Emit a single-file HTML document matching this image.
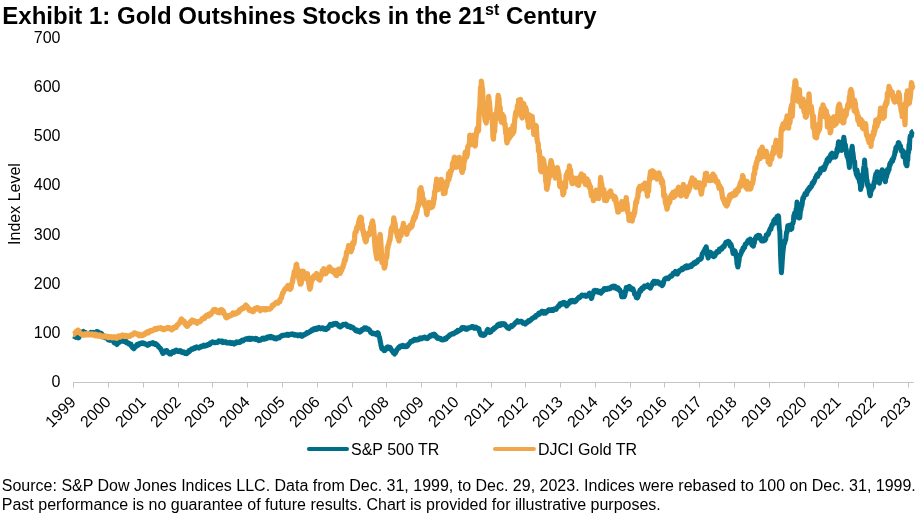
<!DOCTYPE html>
<html><head><meta charset="utf-8">
<style>
html,body{margin:0;padding:0;background:#fff;}
body{width:919px;height:516px;overflow:hidden;position:relative;font-family:"Liberation Sans",sans-serif;color:#000;}
#title{position:absolute;left:2.3px;top:3px;font-size:24px;font-weight:bold;white-space:nowrap;line-height:26px;}
#title sup{font-size:16px;line-height:0;vertical-align:baseline;position:relative;top:-9px;}
#foot{position:absolute;left:1.8px;top:477.3px;font-size:16px;line-height:18.6px;white-space:nowrap;}
#wrap{position:absolute;left:0;top:0;width:919px;height:516px;will-change:transform;}
svg{position:absolute;left:0;top:0;}
svg text{font-family:"Liberation Sans",sans-serif;font-size:16px;fill:#000;}
</style></head><body><div id="wrap">
<div id="title">Exhibit 1: Gold Outshines Stocks in the 21<sup>st</sup> Century</div>
<svg width="919" height="516" viewBox="0 0 919 516">
<g stroke="#c4c4c4" stroke-width="1" fill="none">
<line x1="73" y1="382.5" x2="913.8" y2="382.5"/>
<line x1="73.5" y1="382" x2="73.5" y2="387.6"/><line x1="108.5" y1="382" x2="108.5" y2="387.6"/><line x1="143.5" y1="382" x2="143.5" y2="387.6"/><line x1="178.5" y1="382" x2="178.5" y2="387.6"/><line x1="212.5" y1="382" x2="212.5" y2="387.6"/><line x1="247.5" y1="382" x2="247.5" y2="387.6"/><line x1="282.5" y1="382" x2="282.5" y2="387.6"/><line x1="317.5" y1="382" x2="317.5" y2="387.6"/><line x1="352.5" y1="382" x2="352.5" y2="387.6"/><line x1="386.5" y1="382" x2="386.5" y2="387.6"/><line x1="421.5" y1="382" x2="421.5" y2="387.6"/><line x1="456.5" y1="382" x2="456.5" y2="387.6"/><line x1="491.5" y1="382" x2="491.5" y2="387.6"/><line x1="525.5" y1="382" x2="525.5" y2="387.6"/><line x1="560.5" y1="382" x2="560.5" y2="387.6"/><line x1="595.5" y1="382" x2="595.5" y2="387.6"/><line x1="630.5" y1="382" x2="630.5" y2="387.6"/><line x1="664.5" y1="382" x2="664.5" y2="387.6"/><line x1="699.5" y1="382" x2="699.5" y2="387.6"/><line x1="734.5" y1="382" x2="734.5" y2="387.6"/><line x1="769.5" y1="382" x2="769.5" y2="387.6"/><line x1="804.5" y1="382" x2="804.5" y2="387.6"/><line x1="838.5" y1="382" x2="838.5" y2="387.6"/><line x1="873.5" y1="382" x2="873.5" y2="387.6"/><line x1="908.5" y1="382" x2="908.5" y2="387.6"/>
</g>
<text x="60.5" y="386.7" text-anchor="end">0</text><text x="60.5" y="337.5" text-anchor="end">100</text><text x="60.5" y="289.3" text-anchor="end">200</text><text x="60.5" y="240.1" text-anchor="end">300</text><text x="60.5" y="189.9" text-anchor="end">400</text><text x="60.5" y="140.7" text-anchor="end">500</text><text x="60.5" y="91.5" text-anchor="end">600</text><text x="60.5" y="43.3" text-anchor="end">700</text>
<text transform="translate(76.90,403.0) rotate(-45)" text-anchor="end">1999</text><text transform="translate(111.90,403.0) rotate(-45)" text-anchor="end">2000</text><text transform="translate(146.90,403.0) rotate(-45)" text-anchor="end">2001</text><text transform="translate(181.90,403.0) rotate(-45)" text-anchor="end">2002</text><text transform="translate(215.90,403.0) rotate(-45)" text-anchor="end">2003</text><text transform="translate(250.90,403.0) rotate(-45)" text-anchor="end">2004</text><text transform="translate(285.90,403.0) rotate(-45)" text-anchor="end">2005</text><text transform="translate(320.90,403.0) rotate(-45)" text-anchor="end">2006</text><text transform="translate(355.90,403.0) rotate(-45)" text-anchor="end">2007</text><text transform="translate(389.90,403.0) rotate(-45)" text-anchor="end">2008</text><text transform="translate(424.90,403.0) rotate(-45)" text-anchor="end">2009</text><text transform="translate(459.90,403.0) rotate(-45)" text-anchor="end">2010</text><text transform="translate(494.90,403.0) rotate(-45)" text-anchor="end">2011</text><text transform="translate(528.90,403.0) rotate(-45)" text-anchor="end">2012</text><text transform="translate(563.90,403.0) rotate(-45)" text-anchor="end">2013</text><text transform="translate(598.90,403.0) rotate(-45)" text-anchor="end">2014</text><text transform="translate(633.90,403.0) rotate(-45)" text-anchor="end">2015</text><text transform="translate(667.90,403.0) rotate(-45)" text-anchor="end">2016</text><text transform="translate(702.90,403.0) rotate(-45)" text-anchor="end">2017</text><text transform="translate(737.90,403.0) rotate(-45)" text-anchor="end">2018</text><text transform="translate(772.90,403.0) rotate(-45)" text-anchor="end">2019</text><text transform="translate(807.90,403.0) rotate(-45)" text-anchor="end">2020</text><text transform="translate(841.90,403.0) rotate(-45)" text-anchor="end">2021</text><text transform="translate(876.90,403.0) rotate(-45)" text-anchor="end">2022</text><text transform="translate(911.90,403.0) rotate(-45)" text-anchor="end">2023</text>
<text transform="translate(19.5,204) rotate(-90)" text-anchor="middle">Index Level</text>
<path d="M73.0,336.1 L73.4,336.2 L73.8,336.2 L74.2,336.1 L74.6,336.2 L75.0,336.2 L75.4,336.6 L75.8,337.3 L76.2,336.9 L76.6,336.7 L77.0,337.5 L77.4,337.5 L77.8,337.5 L78.2,337.2 L78.6,337.9 L79.0,337.4 L79.4,335.7 L79.8,335.0 L80.2,333.6 L80.6,333.0 L81.0,332.0 L81.4,332.3 L81.8,332.2 L82.2,332.4 L82.6,332.3 L83.0,332.0 L83.4,331.5 L83.8,332.1 L84.2,332.7 L84.6,332.9 L85.0,332.5 L85.4,333.0 L85.8,332.7 L86.2,333.2 L86.6,334.0 L87.0,333.6 L87.4,333.9 L87.8,334.4 L88.2,334.0 L88.6,334.4 L89.0,334.0 L89.4,333.8 L89.8,333.1 L90.2,333.3 L90.6,333.7 L91.0,332.3 L91.4,333.3 L91.8,332.9 L92.2,332.6 L92.6,333.3 L93.0,333.2 L93.4,332.4 L93.8,332.9 L94.2,333.1 L94.6,332.9 L95.0,332.8 L95.4,332.6 L95.8,332.7 L96.2,332.8 L96.6,331.6 L97.0,332.0 L97.4,331.7 L97.8,332.1 L98.2,331.9 L98.6,332.2 L99.0,333.0 L99.4,333.7 L99.8,334.0 L100.2,333.1 L100.6,333.6 L101.0,334.0 L101.4,333.5 L101.8,334.1 L102.2,334.6 L102.6,335.3 L103.0,335.5 L103.4,335.4 L103.8,335.7 L104.2,336.3 L104.6,337.6 L105.0,337.1 L105.4,337.4 L105.8,337.7 L106.2,337.4 L106.6,337.7 L107.0,337.8 L107.4,338.5 L107.8,338.7 L108.2,339.9 L108.6,339.9 L109.0,339.7 L109.4,340.0 L109.8,339.6 L110.2,340.3 L110.6,339.6 L111.0,339.9 L111.4,339.2 L111.8,339.7 L112.2,339.3 L112.6,339.4 L113.0,340.5 L113.4,341.0 L113.8,342.1 L114.2,342.9 L114.6,341.8 L115.0,342.4 L115.4,342.9 L115.8,343.7 L116.2,343.7 L116.6,344.2 L117.0,344.5 L117.4,344.0 L117.8,342.6 L118.2,343.1 L118.6,342.7 L119.0,341.8 L119.4,342.2 L119.8,341.0 L120.2,341.5 L120.6,341.1 L121.0,340.8 L121.4,340.7 L121.8,341.1 L122.2,340.2 L122.6,340.3 L123.0,340.9 L123.4,340.2 L123.8,341.4 L124.2,340.5 L124.6,341.6 L125.0,341.1 L125.4,341.8 L125.8,341.7 L126.2,341.3 L126.6,342.9 L127.0,343.0 L127.4,342.5 L127.8,342.6 L128.2,343.1 L128.6,343.0 L129.0,344.2 L129.4,343.8 L129.8,344.3 L130.2,344.1 L130.6,343.9 L131.0,344.1 L131.4,346.3 L131.8,346.3 L132.2,347.4 L132.6,347.8 L133.0,348.1 L133.4,348.4 L133.8,348.8 L134.2,348.5 L134.6,347.7 L135.0,347.1 L135.4,346.3 L135.8,345.8 L136.2,346.4 L136.6,344.9 L137.0,344.5 L137.4,345.1 L137.8,345.4 L138.2,344.4 L138.6,344.9 L139.0,344.4 L139.4,343.6 L139.8,344.3 L140.2,343.6 L140.6,343.6 L141.0,343.1 L141.4,343.3 L141.8,343.0 L142.2,343.2 L142.6,342.8 L143.0,342.7 L143.4,343.7 L143.8,343.0 L144.2,343.6 L144.6,343.4 L145.0,343.4 L145.4,343.7 L145.8,344.4 L146.2,344.5 L146.6,344.6 L147.0,344.8 L147.4,345.4 L147.8,345.3 L148.2,344.7 L148.6,344.1 L149.0,343.7 L149.4,344.5 L149.8,344.0 L150.2,343.5 L150.6,343.7 L151.0,343.3 L151.4,343.2 L151.8,343.4 L152.2,342.9 L152.6,343.7 L153.0,342.6 L153.4,343.5 L153.8,343.5 L154.2,343.6 L154.6,344.2 L155.0,344.4 L155.4,343.6 L155.8,343.6 L156.2,344.6 L156.6,344.3 L157.0,344.7 L157.4,345.6 L157.8,345.5 L158.2,345.6 L158.6,347.1 L159.0,347.3 L159.4,347.4 L159.8,348.0 L160.2,348.1 L160.6,348.6 L161.0,349.9 L161.4,350.3 L161.8,350.6 L162.2,352.4 L162.6,352.5 L163.0,353.5 L163.4,353.3 L163.8,353.0 L164.2,352.2 L164.6,351.7 L165.0,351.9 L165.4,350.8 L165.8,350.7 L166.2,350.6 L166.6,351.6 L167.0,350.6 L167.4,352.2 L167.8,352.5 L168.2,352.7 L168.6,352.4 L169.0,353.1 L169.4,353.9 L169.8,353.3 L170.2,353.8 L170.6,353.8 L171.0,354.1 L171.4,353.3 L171.8,352.3 L172.2,352.2 L172.6,351.6 L173.0,351.3 L173.4,351.5 L173.8,352.5 L174.2,351.9 L174.6,351.1 L175.0,350.9 L175.4,351.2 L175.8,350.3 L176.2,350.1 L176.6,350.3 L177.0,350.6 L177.4,351.5 L177.8,351.5 L178.2,351.5 L178.6,351.1 L179.0,351.5 L179.4,350.9 L179.8,351.4 L180.2,350.6 L180.6,351.2 L181.0,351.6 L181.4,351.2 L181.8,352.6 L182.2,352.6 L182.6,351.9 L183.0,352.4 L183.4,352.7 L183.8,351.8 L184.2,353.1 L184.6,353.1 L185.0,353.4 L185.4,353.0 L185.8,353.5 L186.2,353.5 L186.6,353.7 L187.0,353.1 L187.4,352.6 L187.8,352.8 L188.2,351.6 L188.6,351.3 L189.0,350.5 L189.4,351.7 L189.8,351.1 L190.2,350.5 L190.6,350.2 L191.0,349.5 L191.4,349.0 L191.8,348.9 L192.2,348.8 L192.6,348.8 L193.0,349.2 L193.4,348.9 L193.8,348.2 L194.2,347.8 L194.6,347.6 L195.0,348.4 L195.4,347.7 L195.8,347.2 L196.2,347.1 L196.6,346.8 L197.0,347.2 L197.4,347.6 L197.8,347.3 L198.2,347.7 L198.6,347.7 L199.0,348.0 L199.4,347.5 L199.8,347.6 L200.2,346.9 L200.6,347.2 L201.0,346.4 L201.4,346.5 L201.8,346.8 L202.2,346.0 L202.6,345.9 L203.0,345.9 L203.4,345.7 L203.8,345.2 L204.2,345.6 L204.6,346.2 L205.0,345.5 L205.4,345.4 L205.8,345.2 L206.2,345.7 L206.6,345.0 L207.0,344.9 L207.4,345.3 L207.8,344.6 L208.2,345.0 L208.6,344.9 L209.0,344.2 L209.4,344.1 L209.8,344.4 L210.2,343.1 L210.6,342.7 L211.0,342.4 L211.4,342.4 L211.8,342.8 L212.2,342.6 L212.6,341.9 L213.0,342.1 L213.4,342.1 L213.8,342.6 L214.2,342.8 L214.6,342.7 L215.0,342.7 L215.4,342.5 L215.8,342.4 L216.2,342.3 L216.6,342.2 L217.0,342.2 L217.4,342.5 L217.8,341.8 L218.2,341.5 L218.6,341.0 L219.0,341.4 L219.4,340.9 L219.8,340.9 L220.2,341.8 L220.6,341.7 L221.0,341.4 L221.4,341.0 L221.8,341.3 L222.2,341.1 L222.6,342.0 L223.0,342.7 L223.4,342.1 L223.8,341.7 L224.2,341.8 L224.6,342.1 L225.0,342.2 L225.4,341.9 L225.8,342.5 L226.2,342.0 L226.6,342.9 L227.0,343.0 L227.4,343.1 L227.8,342.6 L228.2,343.1 L228.6,342.9 L229.0,342.9 L229.4,342.9 L229.8,342.3 L230.2,342.3 L230.6,343.3 L231.0,342.6 L231.4,342.8 L231.8,343.4 L232.2,342.5 L232.6,343.0 L233.0,343.3 L233.4,343.6 L233.8,343.4 L234.2,344.0 L234.6,343.4 L235.0,342.6 L235.4,342.5 L235.8,343.1 L236.2,342.5 L236.6,341.9 L237.0,342.8 L237.4,342.6 L237.8,342.5 L238.2,341.9 L238.6,342.0 L239.0,341.8 L239.4,342.5 L239.8,342.0 L240.2,342.3 L240.6,341.6 L241.0,341.4 L241.4,340.7 L241.8,341.0 L242.2,341.0 L242.6,340.2 L243.0,341.0 L243.4,340.4 L243.8,339.9 L244.2,340.0 L244.6,339.4 L245.0,339.4 L245.4,339.1 L245.8,338.8 L246.2,339.2 L246.6,338.9 L247.0,338.8 L247.4,339.3 L247.8,339.4 L248.2,338.2 L248.6,338.7 L249.0,338.6 L249.4,338.4 L249.8,339.3 L250.2,338.5 L250.6,339.4 L251.0,338.3 L251.4,338.8 L251.8,338.6 L252.2,338.4 L252.6,339.0 L253.0,339.0 L253.4,339.1 L253.8,339.0 L254.2,338.7 L254.6,338.9 L255.0,338.9 L255.4,339.3 L255.8,338.4 L256.2,338.9 L256.6,338.6 L257.0,339.8 L257.4,339.3 L257.8,339.3 L258.2,340.1 L258.6,340.5 L259.0,339.5 L259.4,339.9 L259.8,340.2 L260.2,340.0 L260.6,340.2 L261.0,339.7 L261.4,339.5 L261.8,339.5 L262.2,338.4 L262.6,339.1 L263.0,338.3 L263.4,338.2 L263.8,338.0 L264.2,339.3 L264.6,338.8 L265.0,338.9 L265.4,338.5 L265.8,338.2 L266.2,338.0 L266.6,338.5 L267.0,337.1 L267.4,337.0 L267.8,337.2 L268.2,336.8 L268.6,337.6 L269.0,337.7 L269.4,336.7 L269.8,336.6 L270.2,337.1 L270.6,337.5 L271.0,336.4 L271.4,337.4 L271.8,337.1 L272.2,337.7 L272.6,337.2 L273.0,337.6 L273.4,337.3 L273.8,337.5 L274.2,338.6 L274.6,338.7 L275.0,338.4 L275.4,338.3 L275.8,338.1 L276.2,338.9 L276.6,338.7 L277.0,338.5 L277.4,338.1 L277.8,337.6 L278.2,337.7 L278.6,337.3 L279.0,337.6 L279.4,337.8 L279.8,336.7 L280.2,336.4 L280.6,336.4 L281.0,336.0 L281.4,335.8 L281.8,335.9 L282.2,335.4 L282.6,335.9 L283.0,335.2 L283.4,335.3 L283.8,335.1 L284.2,334.9 L284.6,335.0 L285.0,335.3 L285.4,335.2 L285.8,335.3 L286.2,334.7 L286.6,334.4 L287.0,335.1 L287.4,334.5 L287.8,334.9 L288.2,335.3 L288.6,334.3 L289.0,335.2 L289.4,335.0 L289.8,334.6 L290.2,334.4 L290.6,334.5 L291.0,334.1 L291.4,334.5 L291.8,334.5 L292.2,334.5 L292.6,334.0 L293.0,334.6 L293.4,334.7 L293.8,334.7 L294.2,334.8 L294.6,335.2 L295.0,334.4 L295.4,335.1 L295.8,335.1 L296.2,335.3 L296.6,335.3 L297.0,334.8 L297.4,335.3 L297.8,335.8 L298.2,335.5 L298.6,335.4 L299.0,334.9 L299.4,335.5 L299.8,335.5 L300.2,335.4 L300.6,335.3 L301.0,334.6 L301.4,336.2 L301.8,335.9 L302.2,335.0 L302.6,336.1 L303.0,335.2 L303.4,334.7 L303.8,334.8 L304.2,335.1 L304.6,334.3 L305.0,334.3 L305.4,334.6 L305.8,334.2 L306.2,333.2 L306.6,333.0 L307.0,332.5 L307.4,332.6 L307.8,333.1 L308.2,333.0 L308.6,332.6 L309.0,332.5 L309.4,331.7 L309.8,331.7 L310.2,331.8 L310.6,331.2 L311.0,331.4 L311.4,330.5 L311.8,329.8 L312.2,330.1 L312.6,329.6 L313.0,329.2 L313.4,330.2 L313.8,329.8 L314.2,329.7 L314.6,328.7 L315.0,329.1 L315.4,328.8 L315.8,328.6 L316.2,328.2 L316.6,328.7 L317.0,329.4 L317.4,328.8 L317.8,328.5 L318.2,328.3 L318.6,328.5 L319.0,327.4 L319.4,328.0 L319.8,328.0 L320.2,328.3 L320.6,328.8 L321.0,328.5 L321.4,328.1 L321.8,328.3 L322.2,328.1 L322.6,327.8 L323.0,328.3 L323.4,328.8 L323.8,329.2 L324.2,328.5 L324.6,328.3 L325.0,328.5 L325.4,329.2 L325.8,328.8 L326.2,329.6 L326.6,328.6 L327.0,328.4 L327.4,328.0 L327.8,328.4 L328.2,328.2 L328.6,326.5 L329.0,326.3 L329.4,326.3 L329.8,325.1 L330.2,324.5 L330.6,324.9 L331.0,324.6 L331.4,324.9 L331.8,324.6 L332.2,325.3 L332.6,324.6 L333.0,324.8 L333.4,323.7 L333.8,323.6 L334.2,323.8 L334.6,323.6 L335.0,324.2 L335.4,323.9 L335.8,323.4 L336.2,323.9 L336.6,323.7 L337.0,324.6 L337.4,324.3 L337.8,324.5 L338.2,325.4 L338.6,326.2 L339.0,326.3 L339.4,325.9 L339.8,326.5 L340.2,326.9 L340.6,326.1 L341.0,326.0 L341.4,326.2 L341.8,326.0 L342.2,325.0 L342.6,324.7 L343.0,324.4 L343.4,325.1 L343.8,324.6 L344.2,324.6 L344.6,324.4 L345.0,324.5 L345.4,324.1 L345.8,324.6 L346.2,324.3 L346.6,325.1 L347.0,325.1 L347.4,326.4 L347.8,325.9 L348.2,326.1 L348.6,326.4 L349.0,326.4 L349.4,326.8 L349.8,326.1 L350.2,326.2 L350.6,326.4 L351.0,327.7 L351.4,327.4 L351.8,326.9 L352.2,327.1 L352.6,327.8 L353.0,327.5 L353.4,327.7 L353.8,328.6 L354.2,328.9 L354.6,329.7 L355.0,329.3 L355.4,330.5 L355.8,330.7 L356.2,330.4 L356.6,330.4 L357.0,330.2 L357.4,331.2 L357.8,331.0 L358.2,331.6 L358.6,331.6 L359.0,331.2 L359.4,330.8 L359.8,332.1 L360.2,331.8 L360.6,331.7 L361.0,331.1 L361.4,330.9 L361.8,329.6 L362.2,330.0 L362.6,329.3 L363.0,329.6 L363.4,329.6 L363.8,328.6 L364.2,327.7 L364.6,327.8 L365.0,327.8 L365.4,328.0 L365.8,328.5 L366.2,327.9 L366.6,329.1 L367.0,328.4 L367.4,329.3 L367.8,328.7 L368.2,328.7 L368.6,329.2 L369.0,329.6 L369.4,330.0 L369.8,330.3 L370.2,331.5 L370.6,332.4 L371.0,332.7 L371.4,332.9 L371.8,333.0 L372.2,332.7 L372.6,333.7 L373.0,333.4 L373.4,333.4 L373.8,333.3 L374.2,333.9 L374.6,333.9 L375.0,334.0 L375.4,333.6 L375.8,334.2 L376.2,334.6 L376.6,333.8 L377.0,333.4 L377.4,333.3 L377.8,332.6 L378.2,333.0 L378.6,334.2 L379.0,336.4 L379.4,337.2 L379.8,338.7 L380.2,341.5 L380.6,342.9 L381.0,345.6 L381.4,346.9 L381.8,348.6 L382.2,347.4 L382.6,348.4 L383.0,349.0 L383.4,349.8 L383.8,350.0 L384.2,350.7 L384.6,349.6 L385.0,350.5 L385.4,349.6 L385.8,349.0 L386.2,349.1 L386.6,348.1 L387.0,347.1 L387.4,347.1 L387.8,346.8 L388.2,347.0 L388.6,347.4 L389.0,347.9 L389.4,348.5 L389.8,347.9 L390.2,347.4 L390.6,348.3 L391.0,349.0 L391.4,349.8 L391.8,350.7 L392.2,351.2 L392.6,350.7 L393.0,352.5 L393.4,352.3 L393.8,353.1 L394.2,353.6 L394.6,354.0 L395.0,352.9 L395.4,353.1 L395.8,351.9 L396.2,351.3 L396.6,350.9 L397.0,349.2 L397.4,349.2 L397.8,348.8 L398.2,348.4 L398.6,347.3 L399.0,348.3 L399.4,347.4 L399.8,346.5 L400.2,346.1 L400.6,346.5 L401.0,346.7 L401.4,346.1 L401.8,346.4 L402.2,345.7 L402.6,346.1 L403.0,345.5 L403.4,346.1 L403.8,346.7 L404.2,346.6 L404.6,345.9 L405.0,346.2 L405.4,345.9 L405.8,346.7 L406.2,346.1 L406.6,346.5 L407.0,346.6 L407.4,346.2 L407.8,345.5 L408.2,345.0 L408.6,344.1 L409.0,343.9 L409.4,343.5 L409.8,343.1 L410.2,342.3 L410.6,341.5 L411.0,341.5 L411.4,341.8 L411.8,341.4 L412.2,341.3 L412.6,340.6 L413.0,341.1 L413.4,340.2 L413.8,339.9 L414.2,339.5 L414.6,340.2 L415.0,339.5 L415.4,340.0 L415.8,339.5 L416.2,340.2 L416.6,339.5 L417.0,339.5 L417.4,339.9 L417.8,339.5 L418.2,339.0 L418.6,338.8 L419.0,338.9 L419.4,339.3 L419.8,338.5 L420.2,337.9 L420.6,338.4 L421.0,338.2 L421.4,338.3 L421.8,338.7 L422.2,338.0 L422.6,338.3 L423.0,337.6 L423.4,337.9 L423.8,338.0 L424.2,337.4 L424.6,337.1 L425.0,337.1 L425.4,338.2 L425.8,337.5 L426.2,338.3 L426.6,338.4 L427.0,338.6 L427.4,338.1 L427.8,338.3 L428.2,337.5 L428.6,337.5 L429.0,337.0 L429.4,336.2 L429.8,336.3 L430.2,336.6 L430.6,335.3 L431.0,335.2 L431.4,335.7 L431.8,335.0 L432.2,335.2 L432.6,334.5 L433.0,335.7 L433.4,335.8 L433.8,335.4 L434.2,334.1 L434.6,334.5 L435.0,334.7 L435.4,335.3 L435.8,336.6 L436.2,336.0 L436.6,337.5 L437.0,337.5 L437.4,338.3 L437.8,337.8 L438.2,337.6 L438.6,338.0 L439.0,338.3 L439.4,338.4 L439.8,338.9 L440.2,338.5 L440.6,338.4 L441.0,339.6 L441.4,339.8 L441.8,339.9 L442.2,339.8 L442.6,339.9 L443.0,339.7 L443.4,339.6 L443.8,339.2 L444.2,339.6 L444.6,338.5 L445.0,339.4 L445.4,338.3 L445.8,338.2 L446.2,339.0 L446.6,338.2 L447.0,337.2 L447.4,337.1 L447.8,337.2 L448.2,337.0 L448.6,335.8 L449.0,336.1 L449.4,335.9 L449.8,334.8 L450.2,335.0 L450.6,334.7 L451.0,334.2 L451.4,334.0 L451.8,334.3 L452.2,333.9 L452.6,333.5 L453.0,333.3 L453.4,334.0 L453.8,333.2 L454.2,333.2 L454.6,333.3 L455.0,332.7 L455.4,332.7 L455.8,331.8 L456.2,332.1 L456.6,331.6 L457.0,332.1 L457.4,331.8 L457.8,330.4 L458.2,330.6 L458.6,330.9 L459.0,330.7 L459.4,330.4 L459.8,329.9 L460.2,330.0 L460.6,329.8 L461.0,329.1 L461.4,329.3 L461.8,327.8 L462.2,328.5 L462.6,327.5 L463.0,328.1 L463.4,327.7 L463.8,327.5 L464.2,328.3 L464.6,327.9 L465.0,328.4 L465.4,328.2 L465.8,329.2 L466.2,329.3 L466.6,329.4 L467.0,329.0 L467.4,329.0 L467.8,328.0 L468.2,327.8 L468.6,328.1 L469.0,328.0 L469.4,328.0 L469.8,327.9 L470.2,327.8 L470.6,327.2 L471.0,326.9 L471.4,327.2 L471.8,326.7 L472.2,327.0 L472.6,326.7 L473.0,327.3 L473.4,327.5 L473.8,327.2 L474.2,328.2 L474.6,328.1 L475.0,328.3 L475.4,328.1 L475.8,327.1 L476.2,327.3 L476.6,327.7 L477.0,327.8 L477.4,328.4 L477.8,328.8 L478.2,328.3 L478.6,329.3 L479.0,328.8 L479.4,331.4 L479.8,332.1 L480.2,333.3 L480.6,334.6 L481.0,334.9 L481.4,333.8 L481.8,333.8 L482.2,334.2 L482.6,333.9 L483.0,334.5 L483.4,335.5 L483.8,334.2 L484.2,335.2 L484.6,334.5 L485.0,334.6 L485.4,333.8 L485.8,333.2 L486.2,332.7 L486.6,332.0 L487.0,330.5 L487.4,329.9 L487.8,329.3 L488.2,330.4 L488.6,330.6 L489.0,331.7 L489.4,331.6 L489.8,332.5 L490.2,331.2 L490.6,331.8 L491.0,332.0 L491.4,331.0 L491.8,330.4 L492.2,330.2 L492.6,329.1 L493.0,329.0 L493.4,329.7 L493.8,328.8 L494.2,327.7 L494.6,327.7 L495.0,327.8 L495.4,328.0 L495.8,327.1 L496.2,326.6 L496.6,326.9 L497.0,326.4 L497.4,325.3 L497.8,324.6 L498.2,324.5 L498.6,324.7 L499.0,324.2 L499.4,325.4 L499.8,324.7 L500.2,324.8 L500.6,325.3 L501.0,324.7 L501.4,323.6 L501.8,324.6 L502.2,324.7 L502.6,324.0 L503.0,323.9 L503.4,324.2 L503.8,323.6 L504.2,324.8 L504.6,323.8 L505.0,324.2 L505.4,325.2 L505.8,325.6 L506.2,326.4 L506.6,326.7 L507.0,327.0 L507.4,327.8 L507.8,326.8 L508.2,327.9 L508.6,328.0 L509.0,328.5 L509.4,328.1 L509.8,327.2 L510.2,327.0 L510.6,327.0 L511.0,326.3 L511.4,325.6 L511.8,326.6 L512.2,326.4 L512.6,325.4 L513.0,325.5 L513.4,325.3 L513.8,324.9 L514.2,324.3 L514.6,323.5 L515.0,323.1 L515.4,322.9 L515.8,322.4 L516.2,322.6 L516.6,321.8 L517.0,321.6 L517.4,320.7 L517.8,321.2 L518.2,321.2 L518.6,321.5 L519.0,322.0 L519.4,321.7 L519.8,321.8 L520.2,321.4 L520.6,321.3 L521.0,321.4 L521.4,321.3 L521.8,322.1 L522.2,321.8 L522.6,323.1 L523.0,322.7 L523.4,323.1 L523.8,323.3 L524.2,323.3 L524.6,323.7 L525.0,323.6 L525.4,324.1 L525.8,323.2 L526.2,322.5 L526.6,322.9 L527.0,321.9 L527.4,322.2 L527.8,322.2 L528.2,321.5 L528.6,320.6 L529.0,320.6 L529.4,321.3 L529.8,320.5 L530.2,320.1 L530.6,319.9 L531.0,320.0 L531.4,319.3 L531.8,318.6 L532.2,318.4 L532.6,318.6 L533.0,317.9 L533.4,317.6 L533.8,317.7 L534.2,317.1 L534.6,317.1 L535.0,316.9 L535.4,317.2 L535.8,315.5 L536.2,315.6 L536.6,315.2 L537.0,315.3 L537.4,315.3 L537.8,314.7 L538.2,314.2 L538.6,313.4 L539.0,313.6 L539.4,314.2 L539.8,313.5 L540.2,312.5 L540.6,312.5 L541.0,312.2 L541.4,311.9 L541.8,311.3 L542.2,311.5 L542.6,311.2 L543.0,311.5 L543.4,313.2 L543.8,311.5 L544.2,312.8 L544.6,313.1 L545.0,312.9 L545.4,312.5 L545.8,313.0 L546.2,312.2 L546.6,311.9 L547.0,311.0 L547.4,311.5 L547.8,310.6 L548.2,310.3 L548.6,309.8 L549.0,309.9 L549.4,310.1 L549.8,309.8 L550.2,310.5 L550.6,310.5 L551.0,310.2 L551.4,310.2 L551.8,309.6 L552.2,309.8 L552.6,310.5 L553.0,309.5 L553.4,310.4 L553.8,309.7 L554.2,309.4 L554.6,308.7 L555.0,308.8 L555.4,308.7 L555.8,309.1 L556.2,309.3 L556.6,308.4 L557.0,308.0 L557.4,307.2 L557.8,307.1 L558.2,306.0 L558.6,306.1 L559.0,306.2 L559.4,304.8 L559.8,303.9 L560.2,304.0 L560.6,303.7 L561.0,303.4 L561.4,304.6 L561.8,304.0 L562.2,303.1 L562.6,303.8 L563.0,303.9 L563.4,302.7 L563.8,302.2 L564.2,302.2 L564.6,302.5 L565.0,303.1 L565.4,304.0 L565.8,304.8 L566.2,305.0 L566.6,306.0 L567.0,305.8 L567.4,304.1 L567.8,304.3 L568.2,304.3 L568.6,303.0 L569.0,303.4 L569.4,302.1 L569.8,301.1 L570.2,301.8 L570.6,301.2 L571.0,300.7 L571.4,301.4 L571.8,301.9 L572.2,301.4 L572.6,300.4 L573.0,301.5 L573.4,301.6 L573.8,300.9 L574.2,301.8 L574.6,301.9 L575.0,300.8 L575.4,300.4 L575.8,301.2 L576.2,300.3 L576.6,299.6 L577.0,299.7 L577.4,299.3 L577.8,298.3 L578.2,298.5 L578.6,297.6 L579.0,297.1 L579.4,297.4 L579.8,297.6 L580.2,296.6 L580.6,296.7 L581.0,296.3 L581.4,296.3 L581.8,295.0 L582.2,295.7 L582.6,295.1 L583.0,295.3 L583.4,295.4 L583.8,295.6 L584.2,295.8 L584.6,295.6 L585.0,295.2 L585.4,295.7 L585.8,296.2 L586.2,296.4 L586.6,296.3 L587.0,295.8 L587.4,295.7 L587.8,295.8 L588.2,294.8 L588.6,294.0 L589.0,293.5 L589.4,293.2 L589.8,294.4 L590.2,294.1 L590.6,296.0 L591.0,297.0 L591.4,298.5 L591.8,298.0 L592.2,295.8 L592.6,295.0 L593.0,294.0 L593.4,292.9 L593.8,290.9 L594.2,291.3 L594.6,292.0 L595.0,290.2 L595.4,291.5 L595.8,290.7 L596.2,290.9 L596.6,291.1 L597.0,290.9 L597.4,291.7 L597.8,290.7 L598.2,292.3 L598.6,291.5 L599.0,292.3 L599.4,292.1 L599.8,291.3 L600.2,292.0 L600.6,292.8 L601.0,293.2 L601.4,292.0 L601.8,291.8 L602.2,290.7 L602.6,291.6 L603.0,290.9 L603.4,290.1 L603.8,289.8 L604.2,288.5 L604.6,289.2 L605.0,289.9 L605.4,289.5 L605.8,289.4 L606.2,288.8 L606.6,288.6 L607.0,289.4 L607.4,288.2 L607.8,288.6 L608.2,289.1 L608.6,289.0 L609.0,289.0 L609.4,289.0 L609.8,288.1 L610.2,287.6 L610.6,288.4 L611.0,287.6 L611.4,286.9 L611.8,287.0 L612.2,287.3 L612.6,286.4 L613.0,286.3 L613.4,286.1 L613.8,286.9 L614.2,287.2 L614.6,287.9 L615.0,286.3 L615.4,286.8 L615.8,288.0 L616.2,287.5 L616.6,287.7 L617.0,288.8 L617.4,288.1 L617.8,287.7 L618.2,287.7 L618.6,289.4 L619.0,290.1 L619.4,289.4 L619.8,289.8 L620.2,291.3 L620.6,291.5 L621.0,291.8 L621.4,295.3 L621.8,296.7 L622.2,295.4 L622.6,296.1 L623.0,296.8 L623.4,296.2 L623.8,295.8 L624.2,296.7 L624.6,295.7 L625.0,294.6 L625.4,290.6 L625.8,291.8 L626.2,287.5 L626.6,288.5 L627.0,288.0 L627.4,287.9 L627.8,287.3 L628.2,286.9 L628.6,288.0 L629.0,287.2 L629.4,286.3 L629.8,288.9 L630.2,288.3 L630.6,289.1 L631.0,287.6 L631.4,289.1 L631.8,289.4 L632.2,289.4 L632.6,288.7 L633.0,288.7 L633.4,290.7 L633.8,290.7 L634.2,292.0 L634.6,294.3 L635.0,294.6 L635.4,294.9 L635.8,295.4 L636.2,297.4 L636.6,297.2 L637.0,296.7 L637.4,297.9 L637.8,297.1 L638.2,296.0 L638.6,295.4 L639.0,293.1 L639.4,292.5 L639.8,290.4 L640.2,291.1 L640.6,291.4 L641.0,289.2 L641.4,289.4 L641.8,288.1 L642.2,287.7 L642.6,287.7 L643.0,288.8 L643.4,288.4 L643.8,287.3 L644.2,286.2 L644.6,286.8 L645.0,286.1 L645.4,287.0 L645.8,286.6 L646.2,286.6 L646.6,286.5 L647.0,285.6 L647.4,285.3 L647.8,284.9 L648.2,286.3 L648.6,286.2 L649.0,287.1 L649.4,286.8 L649.8,287.7 L650.2,288.2 L650.6,287.7 L651.0,286.7 L651.4,285.6 L651.8,285.5 L652.2,284.8 L652.6,283.1 L653.0,282.2 L653.4,283.3 L653.8,281.3 L654.2,282.9 L654.6,281.3 L655.0,281.2 L655.4,283.4 L655.8,282.8 L656.2,281.8 L656.6,282.6 L657.0,282.5 L657.4,282.4 L657.8,281.5 L658.2,282.0 L658.6,282.8 L659.0,283.0 L659.4,284.0 L659.8,283.6 L660.2,284.2 L660.6,283.1 L661.0,284.0 L661.4,283.0 L661.8,283.8 L662.2,285.7 L662.6,284.6 L663.0,284.7 L663.4,283.0 L663.8,281.5 L664.2,280.4 L664.6,279.3 L665.0,278.8 L665.4,278.8 L665.8,278.3 L666.2,277.9 L666.6,278.0 L667.0,278.2 L667.4,278.0 L667.8,278.6 L668.2,278.7 L668.6,278.4 L669.0,277.8 L669.4,277.3 L669.8,276.6 L670.2,276.5 L670.6,275.8 L671.0,276.0 L671.4,275.9 L671.8,276.1 L672.2,275.1 L672.6,274.6 L673.0,273.4 L673.4,274.2 L673.8,273.3 L674.2,273.3 L674.6,272.3 L675.0,272.1 L675.4,271.4 L675.8,272.3 L676.2,273.7 L676.6,271.7 L677.0,273.4 L677.4,274.1 L677.8,272.6 L678.2,272.5 L678.6,272.2 L679.0,270.8 L679.4,271.0 L679.8,270.3 L680.2,270.1 L680.6,269.8 L681.0,270.1 L681.4,269.9 L681.8,270.0 L682.2,268.3 L682.6,269.7 L683.0,269.1 L683.4,268.5 L683.8,267.5 L684.2,267.7 L684.6,267.8 L685.0,267.5 L685.4,266.2 L685.8,267.5 L686.2,267.9 L686.6,265.8 L687.0,267.0 L687.4,266.7 L687.8,266.5 L688.2,267.4 L688.6,266.1 L689.0,267.0 L689.4,267.0 L689.8,266.0 L690.2,265.6 L690.6,265.7 L691.0,265.2 L691.4,266.5 L691.8,264.6 L692.2,265.4 L692.6,264.1 L693.0,264.8 L693.4,264.1 L693.8,262.7 L694.2,263.5 L694.6,262.7 L695.0,262.9 L695.4,263.6 L695.8,261.7 L696.2,261.9 L696.6,262.3 L697.0,261.5 L697.4,262.0 L697.8,261.2 L698.2,259.7 L698.6,259.8 L699.0,260.1 L699.4,259.8 L699.8,259.0 L700.2,259.2 L700.6,259.3 L701.0,258.2 L701.4,258.3 L701.8,256.3 L702.2,253.8 L702.6,253.3 L703.0,253.0 L703.4,252.4 L703.8,250.9 L704.2,250.7 L704.6,250.8 L705.0,248.7 L705.4,248.2 L705.8,249.0 L706.2,246.7 L706.6,249.3 L707.0,253.4 L707.4,255.4 L707.8,256.5 L708.2,258.0 L708.6,256.6 L709.0,254.5 L709.4,254.7 L709.8,253.7 L710.2,252.1 L710.6,253.3 L711.0,253.9 L711.4,252.9 L711.8,254.7 L712.2,255.7 L712.6,256.0 L713.0,255.7 L713.4,256.5 L713.8,256.7 L714.2,256.3 L714.6,255.2 L715.0,255.9 L715.4,253.6 L715.8,253.4 L716.2,253.7 L716.6,251.8 L717.0,251.5 L717.4,252.7 L717.8,252.1 L718.2,251.9 L718.6,251.9 L719.0,251.8 L719.4,249.1 L719.8,249.5 L720.2,249.3 L720.6,248.6 L721.0,248.7 L721.4,248.2 L721.8,249.1 L722.2,247.3 L722.6,247.9 L723.0,247.1 L723.4,246.0 L723.8,246.1 L724.2,246.7 L724.6,245.0 L725.0,244.0 L725.4,243.6 L725.8,242.4 L726.2,243.4 L726.6,243.3 L727.0,241.9 L727.4,242.6 L727.8,243.1 L728.2,241.3 L728.6,241.7 L729.0,241.7 L729.4,242.3 L729.8,243.6 L730.2,246.2 L730.6,244.8 L731.0,244.3 L731.4,246.0 L731.8,247.2 L732.2,248.9 L732.6,250.6 L733.0,253.5 L733.4,252.7 L733.8,253.4 L734.2,252.3 L734.6,252.0 L735.0,250.9 L735.4,252.3 L735.8,254.2 L736.2,257.0 L736.6,258.0 L737.0,264.0 L737.4,264.4 L737.8,267.1 L738.2,265.9 L738.6,263.2 L739.0,260.9 L739.4,257.4 L739.8,255.8 L740.2,255.4 L740.6,254.1 L741.0,253.7 L741.4,252.6 L741.8,250.4 L742.2,250.1 L742.6,250.7 L743.0,247.9 L743.4,249.1 L743.8,248.4 L744.2,246.9 L744.6,247.5 L745.0,244.9 L745.4,244.1 L745.8,243.7 L746.2,244.2 L746.6,243.4 L747.0,242.3 L747.4,242.7 L747.8,240.8 L748.2,242.0 L748.6,240.1 L749.0,241.2 L749.4,241.1 L749.8,239.9 L750.2,239.1 L750.6,239.6 L751.0,241.8 L751.4,243.3 L751.8,244.9 L752.2,244.2 L752.6,245.2 L753.0,246.0 L753.4,246.2 L753.8,241.7 L754.2,243.7 L754.6,241.3 L755.0,239.1 L755.4,238.2 L755.8,237.9 L756.2,236.6 L756.6,236.8 L757.0,236.1 L757.4,237.9 L757.8,237.2 L758.2,235.3 L758.6,236.9 L759.0,235.4 L759.4,236.0 L759.8,235.7 L760.2,237.7 L760.6,239.3 L761.0,238.5 L761.4,240.8 L761.8,241.0 L762.2,240.9 L762.6,239.0 L763.0,240.8 L763.4,240.9 L763.8,239.2 L764.2,240.6 L764.6,238.4 L765.0,240.4 L765.4,238.5 L765.8,239.0 L766.2,235.0 L766.6,236.1 L767.0,234.7 L767.4,235.4 L767.8,233.5 L768.2,233.6 L768.6,233.7 L769.0,231.6 L769.4,230.5 L769.8,230.0 L770.2,228.5 L770.6,229.6 L771.0,229.2 L771.4,226.4 L771.8,225.0 L772.2,225.6 L772.6,223.9 L773.0,223.4 L773.4,223.6 L773.8,220.4 L774.2,222.1 L774.6,220.8 L775.0,219.1 L775.4,222.9 L775.8,219.8 L776.2,221.7 L776.6,218.8 L777.0,216.5 L777.4,217.1 L777.8,217.8 L778.2,215.7 L778.6,216.4 L779.0,223.2 L779.4,229.3 L779.8,231.0 L780.2,242.7 L780.6,256.5 L781.0,265.1 L781.4,272.7 L781.8,268.3 L782.2,261.7 L782.6,256.5 L783.0,251.3 L783.4,248.2 L783.8,245.5 L784.2,241.2 L784.6,243.3 L785.0,241.7 L785.4,240.1 L785.8,239.6 L786.2,235.3 L786.6,231.9 L787.0,232.6 L787.4,228.7 L787.8,225.7 L788.2,228.6 L788.6,225.6 L789.0,226.6 L789.4,225.2 L789.8,226.6 L790.2,226.7 L790.6,227.9 L791.0,229.5 L791.4,226.7 L791.8,228.8 L792.2,224.3 L792.6,223.4 L793.0,223.3 L793.4,220.8 L793.8,215.5 L794.2,218.9 L794.6,213.0 L795.0,214.0 L795.4,212.2 L795.8,213.0 L796.2,208.4 L796.6,208.4 L797.0,202.1 L797.4,206.0 L797.8,205.8 L798.2,208.8 L798.6,216.7 L799.0,218.0 L799.4,216.8 L799.8,217.7 L800.2,213.3 L800.6,209.1 L801.0,209.9 L801.4,204.4 L801.8,206.3 L802.2,204.1 L802.6,199.4 L803.0,197.6 L803.4,198.7 L803.8,197.6 L804.2,195.4 L804.6,195.4 L805.0,193.5 L805.4,194.0 L805.8,194.0 L806.2,193.5 L806.6,194.5 L807.0,190.7 L807.4,191.9 L807.8,191.2 L808.2,190.2 L808.6,188.6 L809.0,188.9 L809.4,189.3 L809.8,186.9 L810.2,187.5 L810.6,187.7 L811.0,186.9 L811.4,186.8 L811.8,184.7 L812.2,183.1 L812.6,184.5 L813.0,183.4 L813.4,183.4 L813.8,181.0 L814.2,181.6 L814.6,180.4 L815.0,179.2 L815.4,177.8 L815.8,177.4 L816.2,176.6 L816.6,175.4 L817.0,175.6 L817.4,174.2 L817.8,176.5 L818.2,173.7 L818.6,174.4 L819.0,172.7 L819.4,172.3 L819.8,173.3 L820.2,170.8 L820.6,168.8 L821.0,169.0 L821.4,168.7 L821.8,170.4 L822.2,168.4 L822.6,169.5 L823.0,167.5 L823.4,168.7 L823.8,169.1 L824.2,169.4 L824.6,166.1 L825.0,167.5 L825.4,165.7 L825.8,163.2 L826.2,164.2 L826.6,163.2 L827.0,159.7 L827.4,161.4 L827.8,161.0 L828.2,158.9 L828.6,157.7 L829.0,161.1 L829.4,159.9 L829.8,159.6 L830.2,159.1 L830.6,154.8 L831.0,156.2 L831.4,153.7 L831.8,154.5 L832.2,153.1 L832.6,155.0 L833.0,157.3 L833.4,155.3 L833.8,154.9 L834.2,155.2 L834.6,156.3 L835.0,155.2 L835.4,157.1 L835.8,156.4 L836.2,154.1 L836.6,153.0 L837.0,148.9 L837.4,152.1 L837.8,147.9 L838.2,144.1 L838.6,141.8 L839.0,147.7 L839.4,143.3 L839.8,142.4 L840.2,143.7 L840.6,144.4 L841.0,147.2 L841.4,146.4 L841.8,150.4 L842.2,145.1 L842.6,146.6 L843.0,140.7 L843.4,143.8 L843.8,137.2 L844.2,139.6 L844.6,143.9 L845.0,147.4 L845.4,144.7 L845.8,149.3 L846.2,148.9 L846.6,154.3 L847.0,156.0 L847.4,157.0 L847.8,156.8 L848.2,159.4 L848.6,160.5 L849.0,164.5 L849.4,167.5 L849.8,160.2 L850.2,160.7 L850.6,157.2 L851.0,157.1 L851.4,151.1 L851.8,148.8 L852.2,146.3 L852.6,151.2 L853.0,153.1 L853.4,156.8 L853.8,160.9 L854.2,161.9 L854.6,161.4 L855.0,168.1 L855.4,170.1 L855.8,171.1 L856.2,173.5 L856.6,175.1 L857.0,170.0 L857.4,172.0 L857.8,177.7 L858.2,178.2 L858.6,174.8 L859.0,177.8 L859.4,181.4 L859.8,182.7 L860.2,183.4 L860.6,189.5 L861.0,188.0 L861.4,185.9 L861.8,186.3 L862.2,180.0 L862.6,178.2 L863.0,175.1 L863.4,171.2 L863.8,167.1 L864.2,165.5 L864.6,160.1 L865.0,167.0 L865.4,169.4 L865.8,169.1 L866.2,173.8 L866.6,179.0 L867.0,179.8 L867.4,184.2 L867.8,186.0 L868.2,184.2 L868.6,188.1 L869.0,188.5 L869.4,192.6 L869.8,194.4 L870.2,195.8 L870.6,193.7 L871.0,191.0 L871.4,190.6 L871.8,189.7 L872.2,186.0 L872.6,186.7 L873.0,187.0 L873.4,187.4 L873.8,184.0 L874.2,181.6 L874.6,183.0 L875.0,177.6 L875.4,176.2 L875.8,174.1 L876.2,173.7 L876.6,175.6 L877.0,171.7 L877.4,174.0 L877.8,176.8 L878.2,175.9 L878.6,178.2 L879.0,175.9 L879.4,183.2 L879.8,181.2 L880.2,178.9 L880.6,172.7 L881.0,171.9 L881.4,174.7 L881.8,174.0 L882.2,169.7 L882.6,171.3 L883.0,170.6 L883.4,173.0 L883.8,175.3 L884.2,177.7 L884.6,174.3 L885.0,180.7 L885.4,181.7 L885.8,176.6 L886.2,174.0 L886.6,176.9 L887.0,174.1 L887.4,169.4 L887.8,173.0 L888.2,170.1 L888.6,168.2 L889.0,169.9 L889.4,166.5 L889.8,163.8 L890.2,165.0 L890.6,162.5 L891.0,162.2 L891.4,162.6 L891.8,160.3 L892.2,159.4 L892.6,161.1 L893.0,159.3 L893.4,158.9 L893.8,157.5 L894.2,155.6 L894.6,154.7 L895.0,151.2 L895.4,152.4 L895.8,147.8 L896.2,148.5 L896.6,146.6 L897.0,147.1 L897.4,146.6 L897.8,146.2 L898.2,142.7 L898.6,142.5 L899.0,142.9 L899.4,144.7 L899.8,145.7 L900.2,147.0 L900.6,146.1 L901.0,150.6 L901.4,151.2 L901.8,150.1 L902.2,150.9 L902.6,150.5 L903.0,156.6 L903.4,151.3 L903.8,157.2 L904.2,154.8 L904.6,153.6 L905.0,154.4 L905.4,160.6 L905.8,164.1 L906.2,163.5 L906.6,165.8 L907.0,165.7 L907.4,160.5 L907.8,160.2 L908.2,151.2 L908.6,152.7 L909.0,144.6 L909.4,149.3 L909.8,139.3 L910.2,136.1 L910.6,136.4 L911.0,135.5 L911.4,136.0 L911.8,132.4 L912.2,131.9 L912.6,131.6 L913.0,131.2 L913.4,131.0" fill="none" stroke="#006d89" stroke-width="5" stroke-linejoin="round" stroke-linecap="butt"/>
<path d="M73.0,334.3 L73.4,334.2 L73.8,334.3 L74.2,334.1 L74.6,333.8 L75.0,333.2 L75.4,332.3 L75.8,332.3 L76.2,331.6 L76.6,332.4 L77.0,331.3 L77.4,330.6 L77.8,330.2 L78.2,330.2 L78.6,330.8 L79.0,331.6 L79.4,332.4 L79.8,332.6 L80.2,333.6 L80.6,333.4 L81.0,333.5 L81.4,334.3 L81.8,334.3 L82.2,334.2 L82.6,334.3 L83.0,334.8 L83.4,335.1 L83.8,334.3 L84.2,334.5 L84.6,335.0 L85.0,334.1 L85.4,334.3 L85.8,334.7 L86.2,334.4 L86.6,334.5 L87.0,334.8 L87.4,333.5 L87.8,334.8 L88.2,334.4 L88.6,334.0 L89.0,334.7 L89.4,334.9 L89.8,334.6 L90.2,334.1 L90.6,334.5 L91.0,334.4 L91.4,334.8 L91.8,334.5 L92.2,334.1 L92.6,334.4 L93.0,334.1 L93.4,334.3 L93.8,335.3 L94.2,335.5 L94.6,335.3 L95.0,335.2 L95.4,335.6 L95.8,334.3 L96.2,335.7 L96.6,335.8 L97.0,335.1 L97.4,335.7 L97.8,335.4 L98.2,336.0 L98.6,334.9 L99.0,335.1 L99.4,335.8 L99.8,336.1 L100.2,335.1 L100.6,335.9 L101.0,336.5 L101.4,336.4 L101.8,336.9 L102.2,336.1 L102.6,336.7 L103.0,336.0 L103.4,336.7 L103.8,336.3 L104.2,336.0 L104.6,335.8 L105.0,336.7 L105.4,336.6 L105.8,336.7 L106.2,336.9 L106.6,336.7 L107.0,336.3 L107.4,336.4 L107.8,336.6 L108.2,337.5 L108.6,336.5 L109.0,337.1 L109.4,337.2 L109.8,337.4 L110.2,337.3 L110.6,336.8 L111.0,336.7 L111.4,337.3 L111.8,337.8 L112.2,337.9 L112.6,337.7 L113.0,337.3 L113.4,337.5 L113.8,337.3 L114.2,337.6 L114.6,336.8 L115.0,337.5 L115.4,337.5 L115.8,337.7 L116.2,337.6 L116.6,338.2 L117.0,337.4 L117.4,337.3 L117.8,336.5 L118.2,336.6 L118.6,336.5 L119.0,337.2 L119.4,335.9 L119.8,337.0 L120.2,337.1 L120.6,336.0 L121.0,335.7 L121.4,335.5 L121.8,335.7 L122.2,335.4 L122.6,335.9 L123.0,335.1 L123.4,335.4 L123.8,335.6 L124.2,336.3 L124.6,335.9 L125.0,336.4 L125.4,335.6 L125.8,335.5 L126.2,335.4 L126.6,336.4 L127.0,336.3 L127.4,336.0 L127.8,336.2 L128.2,336.5 L128.6,336.1 L129.0,335.8 L129.4,336.3 L129.8,336.3 L130.2,335.7 L130.6,335.5 L131.0,335.1 L131.4,334.7 L131.8,335.2 L132.2,335.1 L132.6,334.4 L133.0,334.4 L133.4,334.0 L133.8,333.8 L134.2,333.0 L134.6,333.0 L135.0,333.3 L135.4,333.2 L135.8,333.7 L136.2,333.4 L136.6,333.8 L137.0,334.3 L137.4,334.0 L137.8,334.3 L138.2,335.0 L138.6,335.2 L139.0,335.7 L139.4,334.3 L139.8,335.4 L140.2,334.8 L140.6,335.1 L141.0,335.3 L141.4,335.6 L141.8,335.5 L142.2,335.1 L142.6,335.5 L143.0,334.7 L143.4,334.8 L143.8,334.6 L144.2,333.8 L144.6,334.6 L145.0,334.0 L145.4,333.9 L145.8,332.9 L146.2,332.8 L146.6,332.4 L147.0,332.5 L147.4,331.9 L147.8,332.4 L148.2,332.1 L148.6,332.7 L149.0,331.6 L149.4,332.0 L149.8,330.9 L150.2,330.6 L150.6,330.6 L151.0,330.4 L151.4,330.6 L151.8,331.0 L152.2,330.4 L152.6,330.4 L153.0,330.5 L153.4,330.1 L153.8,329.9 L154.2,329.3 L154.6,328.9 L155.0,329.6 L155.4,328.6 L155.8,329.4 L156.2,329.3 L156.6,329.3 L157.0,328.7 L157.4,328.4 L157.8,328.3 L158.2,328.0 L158.6,328.3 L159.0,328.2 L159.4,328.1 L159.8,328.3 L160.2,328.0 L160.6,328.2 L161.0,327.7 L161.4,328.7 L161.8,328.2 L162.2,329.2 L162.6,329.4 L163.0,328.4 L163.4,329.0 L163.8,329.4 L164.2,329.0 L164.6,329.4 L165.0,328.9 L165.4,328.3 L165.8,328.2 L166.2,328.3 L166.6,328.2 L167.0,327.8 L167.4,328.5 L167.8,328.6 L168.2,327.6 L168.6,327.9 L169.0,328.0 L169.4,327.8 L169.8,328.8 L170.2,328.7 L170.6,328.4 L171.0,328.6 L171.4,329.0 L171.8,329.8 L172.2,328.4 L172.6,328.2 L173.0,328.4 L173.4,327.7 L173.8,328.4 L174.2,327.3 L174.6,327.9 L175.0,327.1 L175.4,327.5 L175.8,326.5 L176.2,327.3 L176.6,326.1 L177.0,325.7 L177.4,324.7 L177.8,324.4 L178.2,324.1 L178.6,324.0 L179.0,323.4 L179.4,323.2 L179.8,322.2 L180.2,321.2 L180.6,320.5 L181.0,319.9 L181.4,318.9 L181.8,319.3 L182.2,320.4 L182.6,320.5 L183.0,320.5 L183.4,321.5 L183.8,322.3 L184.2,321.3 L184.6,322.1 L185.0,323.0 L185.4,324.7 L185.8,323.3 L186.2,325.4 L186.6,326.0 L187.0,325.1 L187.4,326.3 L187.8,325.3 L188.2,324.3 L188.6,324.2 L189.0,323.3 L189.4,323.3 L189.8,323.9 L190.2,322.0 L190.6,322.8 L191.0,321.2 L191.4,321.5 L191.8,320.8 L192.2,320.0 L192.6,320.8 L193.0,321.2 L193.4,320.7 L193.8,320.9 L194.2,321.8 L194.6,321.5 L195.0,321.1 L195.4,321.7 L195.8,322.4 L196.2,321.7 L196.6,322.8 L197.0,323.1 L197.4,322.2 L197.8,321.7 L198.2,321.9 L198.6,321.6 L199.0,321.8 L199.4,321.7 L199.8,321.8 L200.2,321.1 L200.6,321.2 L201.0,320.5 L201.4,320.1 L201.8,319.4 L202.2,318.8 L202.6,319.0 L203.0,318.5 L203.4,318.1 L203.8,318.4 L204.2,317.6 L204.6,318.4 L205.0,317.2 L205.4,316.2 L205.8,316.3 L206.2,316.0 L206.6,315.4 L207.0,315.9 L207.4,315.5 L207.8,314.7 L208.2,316.0 L208.6,315.2 L209.0,315.8 L209.4,314.4 L209.8,313.9 L210.2,314.9 L210.6,313.6 L211.0,313.5 L211.4,313.9 L211.8,312.4 L212.2,311.8 L212.6,311.4 L213.0,311.7 L213.4,309.9 L213.8,310.7 L214.2,310.4 L214.6,311.0 L215.0,309.5 L215.4,309.6 L215.8,310.5 L216.2,310.2 L216.6,310.8 L217.0,311.3 L217.4,312.2 L217.8,311.3 L218.2,311.7 L218.6,310.8 L219.0,311.5 L219.4,312.7 L219.8,311.2 L220.2,310.7 L220.6,309.8 L221.0,311.0 L221.4,310.6 L221.8,309.7 L222.2,311.0 L222.6,310.1 L223.0,311.4 L223.4,311.3 L223.8,313.6 L224.2,313.5 L224.6,314.3 L225.0,315.0 L225.4,315.9 L225.8,317.2 L226.2,317.1 L226.6,317.7 L227.0,316.9 L227.4,317.4 L227.8,317.1 L228.2,316.3 L228.6,315.5 L229.0,316.2 L229.4,315.9 L229.8,315.5 L230.2,315.7 L230.6,314.8 L231.0,314.8 L231.4,314.5 L231.8,315.2 L232.2,314.3 L232.6,313.5 L233.0,313.0 L233.4,313.3 L233.8,314.1 L234.2,313.5 L234.6,313.1 L235.0,314.1 L235.4,313.9 L235.8,313.1 L236.2,313.2 L236.6,313.3 L237.0,312.7 L237.4,312.6 L237.8,311.8 L238.2,312.4 L238.6,311.4 L239.0,312.0 L239.4,310.0 L239.8,310.8 L240.2,310.3 L240.6,309.4 L241.0,309.1 L241.4,309.0 L241.8,309.0 L242.2,308.0 L242.6,307.9 L243.0,308.6 L243.4,308.4 L243.8,307.0 L244.2,306.8 L244.6,306.5 L245.0,306.9 L245.4,305.3 L245.8,305.0 L246.2,306.0 L246.6,305.8 L247.0,306.1 L247.4,306.9 L247.8,307.7 L248.2,307.7 L248.6,309.4 L249.0,308.6 L249.4,310.4 L249.8,309.6 L250.2,309.5 L250.6,310.6 L251.0,310.4 L251.4,310.3 L251.8,310.5 L252.2,311.5 L252.6,311.7 L253.0,311.6 L253.4,311.5 L253.8,310.0 L254.2,309.6 L254.6,308.9 L255.0,309.3 L255.4,309.5 L255.8,309.2 L256.2,308.1 L256.6,307.8 L257.0,308.2 L257.4,307.7 L257.8,308.4 L258.2,308.8 L258.6,308.1 L259.0,309.0 L259.4,309.0 L259.8,310.2 L260.2,310.6 L260.6,309.4 L261.0,309.8 L261.4,308.7 L261.8,309.6 L262.2,309.5 L262.6,309.0 L263.0,309.5 L263.4,308.8 L263.8,309.2 L264.2,309.4 L264.6,308.8 L265.0,309.5 L265.4,309.9 L265.8,309.1 L266.2,308.7 L266.6,309.5 L267.0,309.5 L267.4,308.7 L267.8,309.1 L268.2,309.1 L268.6,308.9 L269.0,309.1 L269.4,308.6 L269.8,308.7 L270.2,308.9 L270.6,308.3 L271.0,308.3 L271.4,307.6 L271.8,307.0 L272.2,305.4 L272.6,305.9 L273.0,305.0 L273.4,305.6 L273.8,304.5 L274.2,304.1 L274.6,303.9 L275.0,304.0 L275.4,303.3 L275.8,302.7 L276.2,303.2 L276.6,302.1 L277.0,302.2 L277.4,302.3 L277.8,302.1 L278.2,303.0 L278.6,301.8 L279.0,301.8 L279.4,301.3 L279.8,301.8 L280.2,299.3 L280.6,298.5 L281.0,298.2 L281.4,298.0 L281.8,295.8 L282.2,294.6 L282.6,293.2 L283.0,292.9 L283.4,292.5 L283.8,291.3 L284.2,290.3 L284.6,290.2 L285.0,289.1 L285.4,289.3 L285.8,288.4 L286.2,288.9 L286.6,288.1 L287.0,286.6 L287.4,287.4 L287.8,288.2 L288.2,285.3 L288.6,286.6 L289.0,286.7 L289.4,287.9 L289.8,285.9 L290.2,289.4 L290.6,287.0 L291.0,288.4 L291.4,286.0 L291.8,284.0 L292.2,282.3 L292.6,281.7 L293.0,277.9 L293.4,277.4 L293.8,275.7 L294.2,271.7 L294.6,275.2 L295.0,273.2 L295.4,270.0 L295.8,269.1 L296.2,264.5 L296.6,264.3 L297.0,268.9 L297.4,270.4 L297.8,269.1 L298.2,271.9 L298.6,274.9 L299.0,279.2 L299.4,279.0 L299.8,281.4 L300.2,284.1 L300.6,283.4 L301.0,283.8 L301.4,281.8 L301.8,278.9 L302.2,275.3 L302.6,271.1 L303.0,271.3 L303.4,271.4 L303.8,274.9 L304.2,278.2 L304.6,274.1 L305.0,275.4 L305.4,277.1 L305.8,277.3 L306.2,278.7 L306.6,278.8 L307.0,274.8 L307.4,273.7 L307.8,278.8 L308.2,277.5 L308.6,282.3 L309.0,284.1 L309.4,287.1 L309.8,289.1 L310.2,288.3 L310.6,287.0 L311.0,282.5 L311.4,282.3 L311.8,280.6 L312.2,279.7 L312.6,279.3 L313.0,276.9 L313.4,276.9 L313.8,275.9 L314.2,276.1 L314.6,277.6 L315.0,276.2 L315.4,276.7 L315.8,276.2 L316.2,274.6 L316.6,273.4 L317.0,274.7 L317.4,276.6 L317.8,274.8 L318.2,278.8 L318.6,279.1 L319.0,279.0 L319.4,278.7 L319.8,280.1 L320.2,278.5 L320.6,276.1 L321.0,276.3 L321.4,275.2 L321.8,275.0 L322.2,270.9 L322.6,273.1 L323.0,270.3 L323.4,270.3 L323.8,268.7 L324.2,270.9 L324.6,270.5 L325.0,270.5 L325.4,272.2 L325.8,273.7 L326.2,271.2 L326.6,272.7 L327.0,271.1 L327.4,269.7 L327.8,271.1 L328.2,269.0 L328.6,269.3 L329.0,267.4 L329.4,268.3 L329.8,267.0 L330.2,268.3 L330.6,270.7 L331.0,270.3 L331.4,270.5 L331.8,270.6 L332.2,271.4 L332.6,270.0 L333.0,270.2 L333.4,271.4 L333.8,270.2 L334.2,270.7 L334.6,272.1 L335.0,273.8 L335.4,273.7 L335.8,275.0 L336.2,275.4 L336.6,275.5 L337.0,272.9 L337.4,271.3 L337.8,270.0 L338.2,270.5 L338.6,269.1 L339.0,270.1 L339.4,271.9 L339.8,272.9 L340.2,273.3 L340.6,271.4 L341.0,271.7 L341.4,269.2 L341.8,270.0 L342.2,267.7 L342.6,267.9 L343.0,267.4 L343.4,264.7 L343.8,264.7 L344.2,261.8 L344.6,259.8 L345.0,261.0 L345.4,260.0 L345.8,257.2 L346.2,255.9 L346.6,252.1 L347.0,252.3 L347.4,252.1 L347.8,249.5 L348.2,248.2 L348.6,245.7 L349.0,247.1 L349.4,246.7 L349.8,247.0 L350.2,246.8 L350.6,247.2 L351.0,251.8 L351.4,249.9 L351.8,248.0 L352.2,248.8 L352.6,242.9 L353.0,244.6 L353.4,244.3 L353.8,244.0 L354.2,241.8 L354.6,238.3 L355.0,232.6 L355.4,232.8 L355.8,231.5 L356.2,231.7 L356.6,228.3 L357.0,226.9 L357.4,228.7 L357.8,228.3 L358.2,225.9 L358.6,222.0 L359.0,226.8 L359.4,219.4 L359.8,218.3 L360.2,222.5 L360.6,217.1 L361.0,218.1 L361.4,218.0 L361.8,228.1 L362.2,224.2 L362.6,229.2 L363.0,231.7 L363.4,230.9 L363.8,235.3 L364.2,233.7 L364.6,237.6 L365.0,239.8 L365.4,240.7 L365.8,241.8 L366.2,241.1 L366.6,238.0 L367.0,237.1 L367.4,235.0 L367.8,233.8 L368.2,235.0 L368.6,233.4 L369.0,234.9 L369.4,234.1 L369.8,231.6 L370.2,233.5 L370.6,227.0 L371.0,226.8 L371.4,229.3 L371.8,223.0 L372.2,225.0 L372.6,221.0 L373.0,224.3 L373.4,225.7 L373.8,231.9 L374.2,234.9 L374.6,240.2 L375.0,246.4 L375.4,249.3 L375.8,252.0 L376.2,254.7 L376.6,257.2 L377.0,258.7 L377.4,257.1 L377.8,256.7 L378.2,254.7 L378.6,249.3 L379.0,243.5 L379.4,243.7 L379.8,236.1 L380.2,234.5 L380.6,239.4 L381.0,245.2 L381.4,252.6 L381.8,261.3 L382.2,262.9 L382.6,261.9 L383.0,262.8 L383.4,263.7 L383.8,263.2 L384.2,268.1 L384.6,267.6 L385.0,265.8 L385.4,263.9 L385.8,258.3 L386.2,255.6 L386.6,257.8 L387.0,255.3 L387.4,247.5 L387.8,248.1 L388.2,245.2 L388.6,245.0 L389.0,242.9 L389.4,240.8 L389.8,240.3 L390.2,237.8 L390.6,235.0 L391.0,230.2 L391.4,228.2 L391.8,230.4 L392.2,226.8 L392.6,228.4 L393.0,227.0 L393.4,222.9 L393.8,217.9 L394.2,220.7 L394.6,225.6 L395.0,222.9 L395.4,227.7 L395.8,229.8 L396.2,230.2 L396.6,233.5 L397.0,230.8 L397.4,236.8 L397.8,236.4 L398.2,238.0 L398.6,239.6 L399.0,240.9 L399.4,237.1 L399.8,237.1 L400.2,232.7 L400.6,236.1 L401.0,235.7 L401.4,230.2 L401.8,230.6 L402.2,228.3 L402.6,231.0 L403.0,226.5 L403.4,223.3 L403.8,229.6 L404.2,228.2 L404.6,227.6 L405.0,228.5 L405.4,229.0 L405.8,232.4 L406.2,230.5 L406.6,234.3 L407.0,233.7 L407.4,229.8 L407.8,230.3 L408.2,230.3 L408.6,227.2 L409.0,229.3 L409.4,228.6 L409.8,226.1 L410.2,225.3 L410.6,226.7 L411.0,227.6 L411.4,227.0 L411.8,225.0 L412.2,226.0 L412.6,221.8 L413.0,221.0 L413.4,218.4 L413.8,220.5 L414.2,216.4 L414.6,216.8 L415.0,217.8 L415.4,217.4 L415.8,212.4 L416.2,214.0 L416.6,212.7 L417.0,211.5 L417.4,207.8 L417.8,206.9 L418.2,203.8 L418.6,205.8 L419.0,201.9 L419.4,194.8 L419.8,189.5 L420.2,192.3 L420.6,194.1 L421.0,187.6 L421.4,191.4 L421.8,193.1 L422.2,192.7 L422.6,200.3 L423.0,201.4 L423.4,203.2 L423.8,199.3 L424.2,204.9 L424.6,203.8 L425.0,206.3 L425.4,205.5 L425.8,207.8 L426.2,210.3 L426.6,213.9 L427.0,214.5 L427.4,210.9 L427.8,208.1 L428.2,206.3 L428.6,208.6 L429.0,202.3 L429.4,203.4 L429.8,205.4 L430.2,204.8 L430.6,205.2 L431.0,207.7 L431.4,206.5 L431.8,206.4 L432.2,205.7 L432.6,206.7 L433.0,202.0 L433.4,204.2 L433.8,197.7 L434.2,199.5 L434.6,192.3 L435.0,190.7 L435.4,191.4 L435.8,185.1 L436.2,184.4 L436.6,179.2 L437.0,184.6 L437.4,185.2 L437.8,184.6 L438.2,187.1 L438.6,189.5 L439.0,186.7 L439.4,186.5 L439.8,187.8 L440.2,182.9 L440.6,180.2 L441.0,179.4 L441.4,182.8 L441.8,180.2 L442.2,181.9 L442.6,183.7 L443.0,185.4 L443.4,193.7 L443.8,193.0 L444.2,189.7 L444.6,188.3 L445.0,193.2 L445.4,188.6 L445.8,186.8 L446.2,187.1 L446.6,186.0 L447.0,184.4 L447.4,180.9 L447.8,181.2 L448.2,180.4 L448.6,173.5 L449.0,179.6 L449.4,173.8 L449.8,176.5 L450.2,171.3 L450.6,173.0 L451.0,170.6 L451.4,170.5 L451.8,169.7 L452.2,168.1 L452.6,163.2 L453.0,162.8 L453.4,161.5 L453.8,161.6 L454.2,157.7 L454.6,157.2 L455.0,159.8 L455.4,160.2 L455.8,158.4 L456.2,167.3 L456.6,162.5 L457.0,161.9 L457.4,158.4 L457.8,163.4 L458.2,163.6 L458.6,158.7 L459.0,160.3 L459.4,157.3 L459.8,165.7 L460.2,164.4 L460.6,161.8 L461.0,168.3 L461.4,168.7 L461.8,171.5 L462.2,172.3 L462.6,169.8 L463.0,168.8 L463.4,169.0 L463.8,164.0 L464.2,158.4 L464.6,161.1 L465.0,153.8 L465.4,152.1 L465.8,151.7 L466.2,155.5 L466.6,157.2 L467.0,155.6 L467.4,154.2 L467.8,146.3 L468.2,147.2 L468.6,145.6 L469.0,144.3 L469.4,144.1 L469.8,135.1 L470.2,143.7 L470.6,135.7 L471.0,140.2 L471.4,142.3 L471.8,144.3 L472.2,140.2 L472.6,135.9 L473.0,136.8 L473.4,141.8 L473.8,135.2 L474.2,136.3 L474.6,134.9 L475.0,146.0 L475.4,145.1 L475.8,137.6 L476.2,135.9 L476.6,132.0 L477.0,128.9 L477.4,127.9 L477.8,128.8 L478.2,131.3 L478.6,129.8 L479.0,114.5 L479.4,109.7 L479.8,107.3 L480.2,97.4 L480.6,87.1 L481.0,92.2 L481.4,81.2 L481.8,84.6 L482.2,88.6 L482.6,89.1 L483.0,102.1 L483.4,104.2 L483.8,107.8 L484.2,113.4 L484.6,116.8 L485.0,118.8 L485.4,121.4 L485.8,118.2 L486.2,123.0 L486.6,117.5 L487.0,111.1 L487.4,111.6 L487.8,110.6 L488.2,103.7 L488.6,96.3 L489.0,100.9 L489.4,101.6 L489.8,107.5 L490.2,113.2 L490.6,114.9 L491.0,117.9 L491.4,115.0 L491.8,116.0 L492.2,120.2 L492.6,126.1 L493.0,136.7 L493.4,139.1 L493.8,131.6 L494.2,127.0 L494.6,131.6 L495.0,124.3 L495.4,113.9 L495.8,119.5 L496.2,113.3 L496.6,114.7 L497.0,108.5 L497.4,107.4 L497.8,101.1 L498.2,95.4 L498.6,97.3 L499.0,98.4 L499.4,108.1 L499.8,107.4 L500.2,107.5 L500.6,119.2 L501.0,120.3 L501.4,122.1 L501.8,121.6 L502.2,113.9 L502.6,118.5 L503.0,119.6 L503.4,122.0 L503.8,116.5 L504.2,123.7 L504.6,124.7 L505.0,123.9 L505.4,129.1 L505.8,133.5 L506.2,134.0 L506.6,140.5 L507.0,142.9 L507.4,140.2 L507.8,138.1 L508.2,136.1 L508.6,139.4 L509.0,133.7 L509.4,132.6 L509.8,137.6 L510.2,129.5 L510.6,133.1 L511.0,136.0 L511.4,132.2 L511.8,132.2 L512.2,134.2 L512.6,133.8 L513.0,125.5 L513.4,126.7 L513.8,132.0 L514.2,127.4 L514.6,120.9 L515.0,117.8 L515.4,115.1 L515.8,112.0 L516.2,115.7 L516.6,111.9 L517.0,112.5 L517.4,105.9 L517.8,110.1 L518.2,110.6 L518.6,100.2 L519.0,106.3 L519.4,102.5 L519.8,102.6 L520.2,103.4 L520.6,99.4 L521.0,102.4 L521.4,111.7 L521.8,117.2 L522.2,117.9 L522.6,116.7 L523.0,115.7 L523.4,108.9 L523.8,103.6 L524.2,108.7 L524.6,109.5 L525.0,109.4 L525.4,107.0 L525.8,110.1 L526.2,109.2 L526.6,113.4 L527.0,113.0 L527.4,117.3 L527.8,121.1 L528.2,122.3 L528.6,127.3 L529.0,118.9 L529.4,114.9 L529.8,123.8 L530.2,123.4 L530.6,123.2 L531.0,119.5 L531.4,120.9 L531.8,120.3 L532.2,116.4 L532.6,121.0 L533.0,127.0 L533.4,124.2 L533.8,134.4 L534.2,125.5 L534.6,125.4 L535.0,129.1 L535.4,125.4 L535.8,125.4 L536.2,125.9 L536.6,132.5 L537.0,138.8 L537.4,141.2 L537.8,143.0 L538.2,143.3 L538.6,151.4 L539.0,151.5 L539.4,150.8 L539.8,158.3 L540.2,164.8 L540.6,170.3 L541.0,171.3 L541.4,171.7 L541.8,171.2 L542.2,163.1 L542.6,158.5 L543.0,163.9 L543.4,159.7 L543.8,161.1 L544.2,164.6 L544.6,166.4 L545.0,172.3 L545.4,174.5 L545.8,181.9 L546.2,181.0 L546.6,188.8 L547.0,189.1 L547.4,185.0 L547.8,185.1 L548.2,182.2 L548.6,178.1 L549.0,178.5 L549.4,174.6 L549.8,168.2 L550.2,166.4 L550.6,163.4 L551.0,160.6 L551.4,161.8 L551.8,164.8 L552.2,165.2 L552.6,170.3 L553.0,169.8 L553.4,167.9 L553.8,175.3 L554.2,173.8 L554.6,171.0 L555.0,175.4 L555.4,178.0 L555.8,174.4 L556.2,174.8 L556.6,172.3 L557.0,171.0 L557.4,167.6 L557.8,169.7 L558.2,171.2 L558.6,174.1 L559.0,174.4 L559.4,181.5 L559.8,186.2 L560.2,186.8 L560.6,185.9 L561.0,185.9 L561.4,182.9 L561.8,184.5 L562.2,186.8 L562.6,190.1 L563.0,194.8 L563.4,190.8 L563.8,193.1 L564.2,186.5 L564.6,186.0 L565.0,186.5 L565.4,187.5 L565.8,180.6 L566.2,175.1 L566.6,179.2 L567.0,176.4 L567.4,172.2 L567.8,171.7 L568.2,171.0 L568.6,171.7 L569.0,172.5 L569.4,165.8 L569.8,175.2 L570.2,169.7 L570.6,169.9 L571.0,175.6 L571.4,176.6 L571.8,182.1 L572.2,183.6 L572.6,181.1 L573.0,180.8 L573.4,181.4 L573.8,180.0 L574.2,182.1 L574.6,178.2 L575.0,182.7 L575.4,179.4 L575.8,178.7 L576.2,183.2 L576.6,178.4 L577.0,181.7 L577.4,184.6 L577.8,184.7 L578.2,183.8 L578.6,185.4 L579.0,181.9 L579.4,181.4 L579.8,177.5 L580.2,176.3 L580.6,181.4 L581.0,175.1 L581.4,174.0 L581.8,179.6 L582.2,178.9 L582.6,175.9 L583.0,175.5 L583.4,177.7 L583.8,175.7 L584.2,180.2 L584.6,180.2 L585.0,182.3 L585.4,184.3 L585.8,183.6 L586.2,184.6 L586.6,184.6 L587.0,178.8 L587.4,183.7 L587.8,181.0 L588.2,180.8 L588.6,186.3 L589.0,183.3 L589.4,184.7 L589.8,188.3 L590.2,186.3 L590.6,186.9 L591.0,193.3 L591.4,195.8 L591.8,195.6 L592.2,192.4 L592.6,195.8 L593.0,196.1 L593.4,200.7 L593.8,198.3 L594.2,198.7 L594.6,199.1 L595.0,194.5 L595.4,195.6 L595.8,195.7 L596.2,190.2 L596.6,191.4 L597.0,194.6 L597.4,190.7 L597.8,195.9 L598.2,198.3 L598.6,198.5 L599.0,192.5 L599.4,192.0 L599.8,193.1 L600.2,186.1 L600.6,177.4 L601.0,180.5 L601.4,188.0 L601.8,183.9 L602.2,189.1 L602.6,194.6 L603.0,190.6 L603.4,190.1 L603.8,189.5 L604.2,192.4 L604.6,200.3 L605.0,198.4 L605.4,197.7 L605.8,198.7 L606.2,199.4 L606.6,200.6 L607.0,195.4 L607.4,198.4 L607.8,195.8 L608.2,196.6 L608.6,196.1 L609.0,196.3 L609.4,192.3 L609.8,193.0 L610.2,194.8 L610.6,191.0 L611.0,193.5 L611.4,194.4 L611.8,195.9 L612.2,195.0 L612.6,195.3 L613.0,196.8 L613.4,196.1 L613.8,197.6 L614.2,199.6 L614.6,199.8 L615.0,196.6 L615.4,199.7 L615.8,198.6 L616.2,204.1 L616.6,203.4 L617.0,207.8 L617.4,207.3 L617.8,212.0 L618.2,211.0 L618.6,211.8 L619.0,207.5 L619.4,210.6 L619.8,209.0 L620.2,207.7 L620.6,207.9 L621.0,205.6 L621.4,204.0 L621.8,201.7 L622.2,205.9 L622.6,209.0 L623.0,208.0 L623.4,208.1 L623.8,209.0 L624.2,208.9 L624.6,208.0 L625.0,205.2 L625.4,207.8 L625.8,203.0 L626.2,197.6 L626.6,206.0 L627.0,202.8 L627.4,207.6 L627.8,212.6 L628.2,213.0 L628.6,213.7 L629.0,220.3 L629.4,215.7 L629.8,215.9 L630.2,216.2 L630.6,216.7 L631.0,218.3 L631.4,220.5 L631.8,214.5 L632.2,221.1 L632.6,215.9 L633.0,214.5 L633.4,216.8 L633.8,215.4 L634.2,211.8 L634.6,213.3 L635.0,208.4 L635.4,206.3 L635.8,202.0 L636.2,202.2 L636.6,202.8 L637.0,199.0 L637.4,197.9 L637.8,197.3 L638.2,192.5 L638.6,188.6 L639.0,188.9 L639.4,190.9 L639.8,186.4 L640.2,187.3 L640.6,186.5 L641.0,187.1 L641.4,187.7 L641.8,186.9 L642.2,187.5 L642.6,185.6 L643.0,185.1 L643.4,187.6 L643.8,188.7 L644.2,187.6 L644.6,186.2 L645.0,183.1 L645.4,186.8 L645.8,188.3 L646.2,183.6 L646.6,190.0 L647.0,192.2 L647.4,196.1 L647.8,188.2 L648.2,188.4 L648.6,191.1 L649.0,182.3 L649.4,180.7 L649.8,178.0 L650.2,174.2 L650.6,171.6 L651.0,174.3 L651.4,178.2 L651.8,175.5 L652.2,172.7 L652.6,170.8 L653.0,175.0 L653.4,173.6 L653.8,174.8 L654.2,172.1 L654.6,176.4 L655.0,173.3 L655.4,177.8 L655.8,177.8 L656.2,174.4 L656.6,176.7 L657.0,179.1 L657.4,176.5 L657.8,177.2 L658.2,175.2 L658.6,174.7 L659.0,172.9 L659.4,174.3 L659.8,176.6 L660.2,176.9 L660.6,178.8 L661.0,178.0 L661.4,183.1 L661.8,181.9 L662.2,180.6 L662.6,181.7 L663.0,186.9 L663.4,187.3 L663.8,196.3 L664.2,196.4 L664.6,194.6 L665.0,196.0 L665.4,203.2 L665.8,199.3 L666.2,205.0 L666.6,206.4 L667.0,209.1 L667.4,207.8 L667.8,204.6 L668.2,204.2 L668.6,201.3 L669.0,203.5 L669.4,198.5 L669.8,202.1 L670.2,197.5 L670.6,198.3 L671.0,195.3 L671.4,195.6 L671.8,194.7 L672.2,193.7 L672.6,195.4 L673.0,192.4 L673.4,193.8 L673.8,197.4 L674.2,194.5 L674.6,192.4 L675.0,196.1 L675.4,195.8 L675.8,190.8 L676.2,192.0 L676.6,194.2 L677.0,194.3 L677.4,190.3 L677.8,192.9 L678.2,187.9 L678.6,187.3 L679.0,188.6 L679.4,189.7 L679.8,192.0 L680.2,193.9 L680.6,193.1 L681.0,195.9 L681.4,190.4 L681.8,188.4 L682.2,191.9 L682.6,188.0 L683.0,190.7 L683.4,184.3 L683.8,187.2 L684.2,188.4 L684.6,189.2 L685.0,189.8 L685.4,193.1 L685.8,194.5 L686.2,196.3 L686.6,194.7 L687.0,194.0 L687.4,192.8 L687.8,187.9 L688.2,186.8 L688.6,191.3 L689.0,190.3 L689.4,187.0 L689.8,188.2 L690.2,185.4 L690.6,182.3 L691.0,183.8 L691.4,180.2 L691.8,183.4 L692.2,177.8 L692.6,180.6 L693.0,183.4 L693.4,183.7 L693.8,179.6 L694.2,184.1 L694.6,180.0 L695.0,182.6 L695.4,183.5 L695.8,187.3 L696.2,183.4 L696.6,185.3 L697.0,185.4 L697.4,182.7 L697.8,184.1 L698.2,185.6 L698.6,184.7 L699.0,183.2 L699.4,185.5 L699.8,182.8 L700.2,189.5 L700.6,189.7 L701.0,192.9 L701.4,194.1 L701.8,191.3 L702.2,188.6 L702.6,186.4 L703.0,185.7 L703.4,183.8 L703.8,184.2 L704.2,185.3 L704.6,179.2 L705.0,178.8 L705.4,173.6 L705.8,176.4 L706.2,173.9 L706.6,173.4 L707.0,178.3 L707.4,178.4 L707.8,177.8 L708.2,178.9 L708.6,178.8 L709.0,180.6 L709.4,180.0 L709.8,180.4 L710.2,177.2 L710.6,178.6 L711.0,178.7 L711.4,180.3 L711.8,179.1 L712.2,177.0 L712.6,175.4 L713.0,174.1 L713.4,175.8 L713.8,178.7 L714.2,180.2 L714.6,176.2 L715.0,177.4 L715.4,180.0 L715.8,179.2 L716.2,181.7 L716.6,182.3 L717.0,181.9 L717.4,182.4 L717.8,181.5 L718.2,183.3 L718.6,184.5 L719.0,188.2 L719.4,185.3 L719.8,187.4 L720.2,188.9 L720.6,187.4 L721.0,189.6 L721.4,188.9 L721.8,192.5 L722.2,194.8 L722.6,198.3 L723.0,197.8 L723.4,199.9 L723.8,199.0 L724.2,200.0 L724.6,203.2 L725.0,203.6 L725.4,204.4 L725.8,203.4 L726.2,205.6 L726.6,205.9 L727.0,199.9 L727.4,204.9 L727.8,203.0 L728.2,202.2 L728.6,200.3 L729.0,200.7 L729.4,195.7 L729.8,195.6 L730.2,194.8 L730.6,195.6 L731.0,197.1 L731.4,196.2 L731.8,195.3 L732.2,194.5 L732.6,193.8 L733.0,194.3 L733.4,194.3 L733.8,193.8 L734.2,195.4 L734.6,194.1 L735.0,193.3 L735.4,190.8 L735.8,194.6 L736.2,193.0 L736.6,190.8 L737.0,192.2 L737.4,189.6 L737.8,188.7 L738.2,191.4 L738.6,188.6 L739.0,187.9 L739.4,186.6 L739.8,185.5 L740.2,183.2 L740.6,186.6 L741.0,181.8 L741.4,182.8 L741.8,180.0 L742.2,179.7 L742.6,175.7 L743.0,176.3 L743.4,181.5 L743.8,182.9 L744.2,180.1 L744.6,182.2 L745.0,185.4 L745.4,183.7 L745.8,187.6 L746.2,184.0 L746.6,184.6 L747.0,181.3 L747.4,189.0 L747.8,186.5 L748.2,188.3 L748.6,183.2 L749.0,185.6 L749.4,184.7 L749.8,184.9 L750.2,189.2 L750.6,188.7 L751.0,187.8 L751.4,183.2 L751.8,184.5 L752.2,184.3 L752.6,183.2 L753.0,181.2 L753.4,178.5 L753.8,173.8 L754.2,174.3 L754.6,174.1 L755.0,166.9 L755.4,168.4 L755.8,168.3 L756.2,163.0 L756.6,164.1 L757.0,160.8 L757.4,160.8 L757.8,157.7 L758.2,157.3 L758.6,157.3 L759.0,155.6 L759.4,155.9 L759.8,150.8 L760.2,158.5 L760.6,152.3 L761.0,149.1 L761.4,148.7 L761.8,150.5 L762.2,147.1 L762.6,149.9 L763.0,150.5 L763.4,153.7 L763.8,153.5 L764.2,156.5 L764.6,155.9 L765.0,154.2 L765.4,155.9 L765.8,152.5 L766.2,151.2 L766.6,155.2 L767.0,156.7 L767.4,157.1 L767.8,156.7 L768.2,162.2 L768.6,158.3 L769.0,159.7 L769.4,159.4 L769.8,164.4 L770.2,161.4 L770.6,159.1 L771.0,156.2 L771.4,159.1 L771.8,159.0 L772.2,153.7 L772.6,152.3 L773.0,154.4 L773.4,154.0 L773.8,146.8 L774.2,147.6 L774.6,151.2 L775.0,146.3 L775.4,145.2 L775.8,142.2 L776.2,140.3 L776.6,145.2 L777.0,146.2 L777.4,141.2 L777.8,148.4 L778.2,150.1 L778.6,149.7 L779.0,154.5 L779.4,150.3 L779.8,156.2 L780.2,151.7 L780.6,150.7 L781.0,133.2 L781.4,129.6 L781.8,127.5 L782.2,129.9 L782.6,126.6 L783.0,123.8 L783.4,124.1 L783.8,128.6 L784.2,128.1 L784.6,126.1 L785.0,127.1 L785.4,121.9 L785.8,121.1 L786.2,119.6 L786.6,124.5 L787.0,115.9 L787.4,117.0 L787.8,126.5 L788.2,127.9 L788.6,128.1 L789.0,118.5 L789.4,120.4 L789.8,123.2 L790.2,120.3 L790.6,109.3 L791.0,108.5 L791.4,105.8 L791.8,104.8 L792.2,116.6 L792.6,109.1 L793.0,97.5 L793.4,94.3 L793.8,98.2 L794.2,87.3 L794.6,87.2 L795.0,81.3 L795.4,80.7 L795.8,81.8 L796.2,87.1 L796.6,92.7 L797.0,95.6 L797.4,98.6 L797.8,101.2 L798.2,98.2 L798.6,97.0 L799.0,96.4 L799.4,89.7 L799.8,98.5 L800.2,102.8 L800.6,99.1 L801.0,102.2 L801.4,106.6 L801.8,106.0 L802.2,105.6 L802.6,104.9 L803.0,99.2 L803.4,100.9 L803.8,109.9 L804.2,112.1 L804.6,104.9 L805.0,112.6 L805.4,116.7 L805.8,117.2 L806.2,115.7 L806.6,116.1 L807.0,109.5 L807.4,111.4 L807.8,105.6 L808.2,110.4 L808.6,102.7 L809.0,93.8 L809.4,99.4 L809.8,109.5 L810.2,111.6 L810.6,107.3 L811.0,108.0 L811.4,106.6 L811.8,111.5 L812.2,113.6 L812.6,115.4 L813.0,127.4 L813.4,115.8 L813.8,124.1 L814.2,128.9 L814.6,131.7 L815.0,137.1 L815.4,128.8 L815.8,133.8 L816.2,137.8 L816.6,137.6 L817.0,134.5 L817.4,129.9 L817.8,133.0 L818.2,124.3 L818.6,124.9 L819.0,130.6 L819.4,129.4 L819.8,127.2 L820.2,117.5 L820.6,114.3 L821.0,112.4 L821.4,108.7 L821.8,110.6 L822.2,114.7 L822.6,109.2 L823.0,105.0 L823.4,107.3 L823.8,107.5 L824.2,116.5 L824.6,108.3 L825.0,116.6 L825.4,110.1 L825.8,111.4 L826.2,110.9 L826.6,118.3 L827.0,115.4 L827.4,127.0 L827.8,115.9 L828.2,118.2 L828.6,124.3 L829.0,126.9 L829.4,124.9 L829.8,122.8 L830.2,132.8 L830.6,132.0 L831.0,129.3 L831.4,123.6 L831.8,124.7 L832.2,118.5 L832.6,120.1 L833.0,119.0 L833.4,123.6 L833.8,116.9 L834.2,119.0 L834.6,125.3 L835.0,123.2 L835.4,123.2 L835.8,121.1 L836.2,123.9 L836.6,116.0 L837.0,118.8 L837.4,121.6 L837.8,112.8 L838.2,107.8 L838.6,105.8 L839.0,106.6 L839.4,104.2 L839.8,106.0 L840.2,109.4 L840.6,109.3 L841.0,116.5 L841.4,111.0 L841.8,121.2 L842.2,115.5 L842.6,120.3 L843.0,122.8 L843.4,121.6 L843.8,122.6 L844.2,115.3 L844.6,112.3 L845.0,117.4 L845.4,110.3 L845.8,113.2 L846.2,115.1 L846.6,110.1 L847.0,109.9 L847.4,107.1 L847.8,104.8 L848.2,108.1 L848.6,102.9 L849.0,106.1 L849.4,96.6 L849.8,99.6 L850.2,91.5 L850.6,90.6 L851.0,89.5 L851.4,91.4 L851.8,92.1 L852.2,97.1 L852.6,103.5 L853.0,106.3 L853.4,102.6 L853.8,105.2 L854.2,110.8 L854.6,100.2 L855.0,104.8 L855.4,103.4 L855.8,112.3 L856.2,109.4 L856.6,111.6 L857.0,112.0 L857.4,116.0 L857.8,119.9 L858.2,121.0 L858.6,116.5 L859.0,120.0 L859.4,124.4 L859.8,122.9 L860.2,122.4 L860.6,124.2 L861.0,119.3 L861.4,125.3 L861.8,123.1 L862.2,121.0 L862.6,128.0 L863.0,124.2 L863.4,126.0 L863.8,129.0 L864.2,127.4 L864.6,124.5 L865.0,125.4 L865.4,123.6 L865.8,124.9 L866.2,132.2 L866.6,135.4 L867.0,135.5 L867.4,136.8 L867.8,137.4 L868.2,139.8 L868.6,136.0 L869.0,142.7 L869.4,136.9 L869.8,138.4 L870.2,137.9 L870.6,136.7 L871.0,146.3 L871.4,139.5 L871.8,139.0 L872.2,139.2 L872.6,135.5 L873.0,136.6 L873.4,131.8 L873.8,135.1 L874.2,132.7 L874.6,126.4 L875.0,130.6 L875.4,126.1 L875.8,120.2 L876.2,122.1 L876.6,121.4 L877.0,126.4 L877.4,120.0 L877.8,123.5 L878.2,121.0 L878.6,121.8 L879.0,117.6 L879.4,117.6 L879.8,117.3 L880.2,112.4 L880.6,108.1 L881.0,114.3 L881.4,111.1 L881.8,112.7 L882.2,110.8 L882.6,111.6 L883.0,118.3 L883.4,114.7 L883.8,113.5 L884.2,117.1 L884.6,110.7 L885.0,104.9 L885.4,106.7 L885.8,103.4 L886.2,101.6 L886.6,103.8 L887.0,102.6 L887.4,93.1 L887.8,93.6 L888.2,94.8 L888.6,92.6 L889.0,86.3 L889.4,88.9 L889.8,88.5 L890.2,90.3 L890.6,92.4 L891.0,91.2 L891.4,94.9 L891.8,94.5 L892.2,91.9 L892.6,96.3 L893.0,97.3 L893.4,99.5 L893.8,98.2 L894.2,101.1 L894.6,102.0 L895.0,97.2 L895.4,99.3 L895.8,100.8 L896.2,99.8 L896.6,96.4 L897.0,101.2 L897.4,99.2 L897.8,96.2 L898.2,101.8 L898.6,92.3 L899.0,96.7 L899.4,94.7 L899.8,101.4 L900.2,105.5 L900.6,103.8 L901.0,109.1 L901.4,112.1 L901.8,107.5 L902.2,116.6 L902.6,112.8 L903.0,111.6 L903.4,110.8 L903.8,115.4 L904.2,116.6 L904.6,117.1 L905.0,124.6 L905.4,106.8 L905.8,102.3 L906.2,106.5 L906.6,94.1 L907.0,96.7 L907.4,90.8 L907.8,97.4 L908.2,96.6 L908.6,103.7 L909.0,99.4 L909.4,103.1 L909.8,98.8 L910.2,98.5 L910.6,93.4 L911.0,88.6 L911.4,82.7 L911.8,83.5 L912.2,87.9 L912.6,85.8 L913.0,84.8 L913.4,84.8" fill="none" stroke="#f1a649" stroke-width="5.3" stroke-linejoin="round" stroke-linecap="butt"/>
<line x1="308.9" y1="449" x2="347" y2="449" stroke="#006d89" stroke-width="4" stroke-linecap="round"/>
<text x="351" y="454.5">S&amp;P 500 TR</text>
<line x1="495" y1="449" x2="533.9" y2="449" stroke="#f1a649" stroke-width="4" stroke-linecap="round"/>
<text x="537.9" y="454.5">DJCI Gold TR</text>
</svg>
<div id="foot">Source: S&amp;P Dow Jones Indices LLC. Data from Dec. 31, 1999, to Dec. 29, 2023. Indices were rebased to 100 on Dec. 31, 1999.<br>Past performance is no guarantee of future results. Chart is provided for illustrative purposes.</div>
</div></body></html>
